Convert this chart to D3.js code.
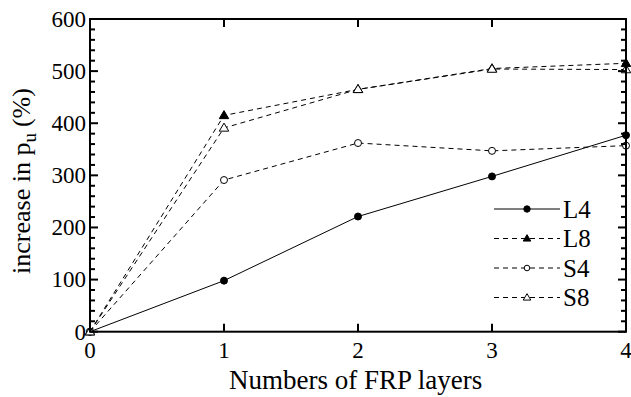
<!DOCTYPE html>
<html>
<head>
<meta charset="utf-8">
<script src="https://cdn.jsdelivr.net/npm/d3@7"></script>
<style>
  body { margin: 0; background: #fff; }
</style>
</head>
<body>
<div id="chart"></div>
<script>
// datos
var layers = [0, 1, 2, 3, 4];
var L4 = [0, 98, 221, 298, 377];
var L8 = [0, 415, 465, 505, 515];
var S4 = [0, 291, 362, 347, 357];
var S8 = [0, 391, 465, 504, 503];
var seriesNames = ["L4", "L8", "S4", "S8"];
var xTicks = [0, 1, 2, 3, 4];
var yTicks = [0, 100, 200, 300, 400, 500, 600];

var width = 631, height = 397;
var margin = {top: 19, right: 5, bottom: 65, left: 90};

var svg = d3.select("#chart").append("svg")
  .attr("width", width)
  .attr("height", height)
  .attr("font-family", "Liberation Serif");

var x = d3.scaleLinear().domain([0, 4]).range([margin.left, width - margin.right]);
var y = d3.scaleLinear().domain([0, 600]).range([height - margin.bottom - 0.3, margin.top]);

var series = [
  {name: "L4", values: L4, dash: null, marker: "circle", fill: true},
  {name: "L8", values: L8, dash: "5,4", marker: "triangle", fill: true},
  {name: "S4", values: S4, dash: "5,4", marker: "circle", fill: false},
  {name: "S8", values: S8, dash: "5,4", marker: "triangle", fill: false}
];

// ticks menores del eje y
var yMinor = d3.range(0, 601, 20).filter(function(v){ return v % 100 != 0; });

var g = svg.append("g");

// lineas
var line = d3.line()
  .x(function(d, i){ return x(layers[i]); })
  .y(function(d){ return y(d); });

series.forEach(function(s){
  g.append("path")
    .datum(s.values)
    .attr("d", line)
    .style("fill", "none")
    .style("stroke", "#000")
    .style("stroke-width", 1)
    .style("stroke-dasharray", s.dash);
});

function drawMarker(sel, s, cx, cy, size) {
  if (s.marker == "circle") {
    sel.append("circle")
      .attr("cx", cx).attr("cy", cy).attr("r", size)
      .style("fill", s.fill ? "#000" : "#fff")
      .style("stroke", "#000").style("stroke-width", 1);
  } else {
    var h = size * 2.3, w = size * 2.7;
    sel.append("path")
      .attr("d", "M" + cx + "," + (cy - h * 0.6) + "L" + (cx + w / 2) + "," + (cy + h * 0.4) +
                 "L" + (cx - w / 2) + "," + (cy + h * 0.4) + "Z")
      .style("fill", s.fill ? "#000" : "#fff")
      .style("stroke", "#000").style("stroke-width", 1);
  }
}

series.forEach(function(s){
  s.values.forEach(function(v, i){
    drawMarker(g, s, x(layers[i]), y(v), 3.5);
  });
});

// ejes
var x0 = x(0), x1 = x(4), y0 = y(0), y1 = y(600);

var axisG = svg.append("g");
// ticks y mayores (izq y der)
yTicks.forEach(function(v){
  axisG.append("line").attr("x1", x0).attr("x2", x0 + 8).attr("y1", y(v)).attr("y2", y(v));
  axisG.append("line").attr("x1", x1).attr("x2", x1 - 8).attr("y1", y(v)).attr("y2", y(v));
});
yMinor.forEach(function(v){
  axisG.append("line").attr("x1", x0).attr("x2", x0 + 5).attr("y1", y(v)).attr("y2", y(v));
  axisG.append("line").attr("x1", x1).attr("x2", x1 - 5).attr("y1", y(v)).attr("y2", y(v));
});
xTicks.forEach(function(v){
  axisG.append("line").attr("x1", x(v)).attr("x2", x(v)).attr("y1", y0).attr("y2", y0 - 8);
  axisG.append("line").attr("x1", x(v)).attr("x2", x(v)).attr("y1", y1).attr("y2", y1 + 8);
});
axisG.selectAll("line").style("stroke", "#000").style("stroke-width", 2);

axisG.append("rect")
  .attr("x", x0).attr("y", y1)
  .attr("width", x1 - x0).attr("height", y0 - y1)
  .style("fill", "none").style("stroke", "#000").style("stroke-width", 2);

// etiquetas
svg.selectAll(".ylab")
  .data(yTicks).enter().append("text")
  .attr("x", x0 - 4)
  .attr("y", function(d){ return y(d); })
  .attr("dy", "0.34em")
  .attr("text-anchor", "end")
  .style("font-size", "23px")
  .text(function(d){ return d; });

svg.selectAll(".xlab")
  .data(xTicks).enter().append("text")
  .attr("x", function(d){ return x(d); })
  .attr("y", y0 + 26)
  .attr("text-anchor", "middle")
  .style("font-size", "23px")
  .text(function(d){ return d; });

svg.append("text")
  .attr("x", 229)
  .attr("y", 389)
  .style("font-size", "27px")
  .text("Numbers of FRP layers");

var yt = svg.append("text")
  .attr("transform", "translate(30,181) rotate(-90)")
  .attr("text-anchor", "middle")
  .style("font-size", "26px");
yt.append("tspan").text("increase in p");
yt.append("tspan").attr("dy", 6).style("font-size", "19px").text("u");
yt.append("tspan").attr("dy", -6).attr("dx", 6).text("(%)");

// leyenda
var leg = svg.append("g");
series.forEach(function(s, i){
  var ly = 209 + i * 29.5;
  leg.append("line")
    .attr("x1", 494).attr("x2", 560).attr("y1", ly).attr("y2", ly)
    .style("stroke", "#000").style("stroke-width", 1)
    .style("stroke-dasharray", s.dash);
  drawMarker(leg, s, 527, ly, s.fill && s.marker == "circle" ? 3.2 : 2.8);
  leg.append("text")
    .attr("x", 563).attr("y", ly).attr("dy", "0.35em")
    .style("font-size", "25px")
    .text(s.name);
});
</script>
</body>
</html>
